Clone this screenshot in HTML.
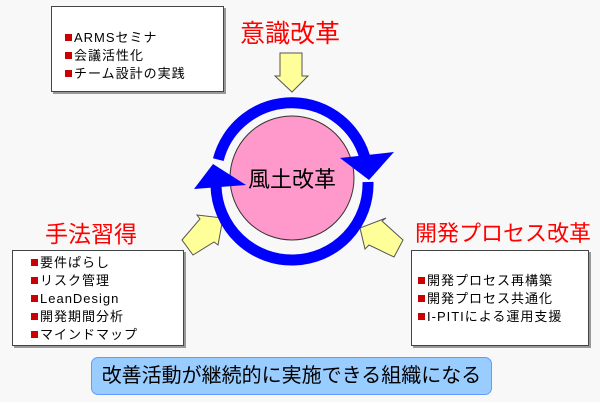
<!DOCTYPE html>
<html><head><meta charset="utf-8"><style>
html,body{margin:0;padding:0}
body{width:600px;height:402px;background:#f8f8f8;position:relative;overflow:hidden;font-family:"Liberation Sans","Noto Sans CJK JP",sans-serif}
.box{position:absolute;background:#fff;border:1px solid #444;box-shadow:2px 2px 0 #999;font-size:13px;line-height:18px;color:#000;box-sizing:border-box;letter-spacing:1px;white-space:nowrap}
.box div:before{content:"";display:inline-block;width:7px;height:7px;background:#c00;margin-right:2px;vertical-align:1px}
.t{position:absolute;color:#f00;font-size:23px;white-space:nowrap}
</style></head><body>
<svg width="600" height="402" style="position:absolute;left:0;top:0">
<polygon points="280,53 302,53 302,76 308,76 292,92 275,76 280,76" fill="#ffff99" stroke="#555" stroke-width="1"/>
<polygon points="182,240 200,219 197,215 223,218 218,245 214,242 193,255" fill="#ffff99" stroke="#555" stroke-width="1"/>
<polygon points="403,240 382,221 386,218 360,228 365,249 369,245 394,257" fill="#ffff99" stroke="#555" stroke-width="1"/>
<circle cx="292" cy="178" r="62" fill="#ff99cc" stroke="#333" stroke-width="1"/>
<path d="M218.3,159.6 A76,76 0 0 1 366,162" fill="none" stroke="#0000ff" stroke-width="11"/>
<polygon points="340,158 394,152 369,180" fill="#0000ff"/>
<path d="M368,182 A76,76 0 0 1 216,186" fill="none" stroke="#0000ff" stroke-width="11"/>
<polygon points="194,189 213,164 246,185" fill="#0000ff"/>
</svg>
<div style="position:absolute;left:0;top:162px;width:584px;text-align:center;font-size:22px">風土改革</div>
<div class="t" style="left:240px;top:14px;font-size:25px">意識改革</div>
<div class="t" style="left:45px;top:215px">手法習得</div>
<div class="t" style="left:415px;top:216px;font-size:22px">開発プロセス改革</div>
<div class="box" style="left:51px;top:6px;width:173px;height:86px;padding:22px 0 0 13px"><div>ARMSセミナ</div><div>会議活性化</div><div>チーム設計の実践</div></div>
<div class="box" style="left:12px;top:250px;width:172px;height:96px;padding:3px 0 0 18px"><div>要件ぱらし</div><div>リスク管理</div><div>LeanDesign</div><div>開発期間分析</div><div>マインドマップ</div></div>
<div class="box" style="left:411px;top:250px;width:178px;height:96px;padding:21px 0 0 6px"><div>開発プロセス再構築</div><div>開発プロセス共通化</div><div>I-PITIによる運用支援</div></div>
<div style="position:absolute;left:91px;top:357px;width:401px;height:38px;box-sizing:border-box;background:#99ccff;border:1px solid #6699ff;border-radius:7px;text-align:center;font-size:20px;line-height:36px">改善活動が継続的に実施できる組織になる</div>
</body></html>
